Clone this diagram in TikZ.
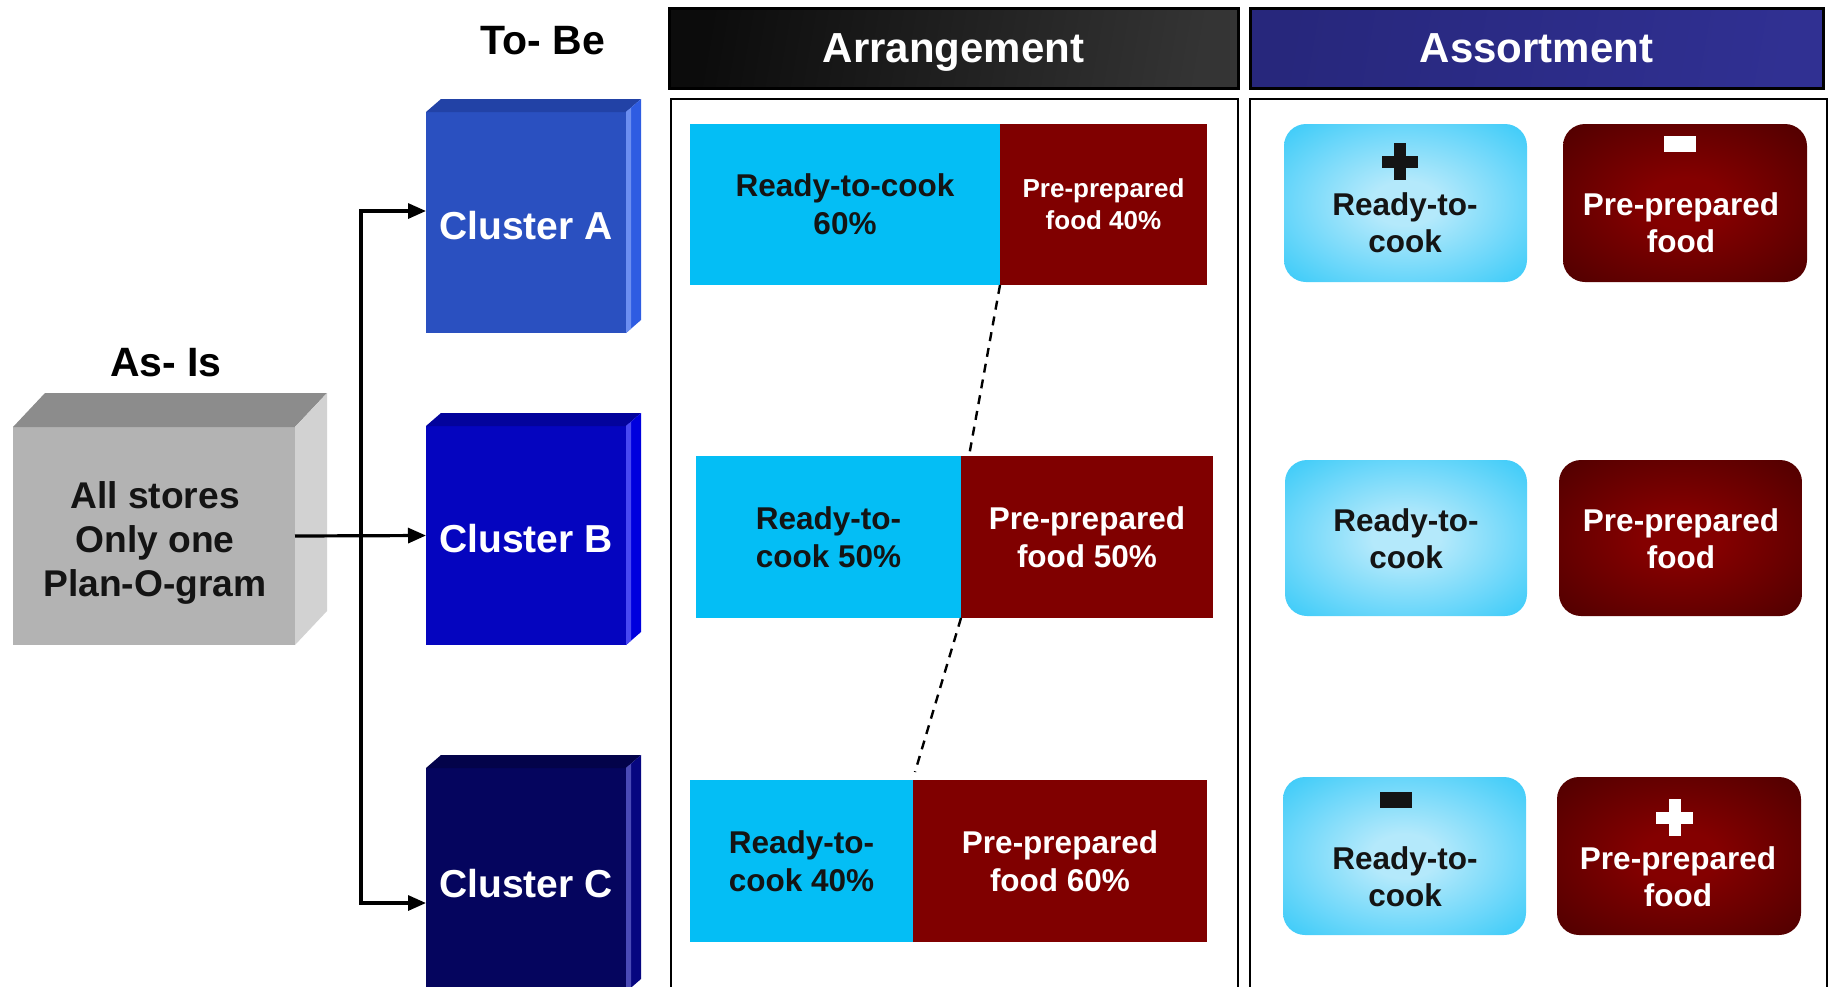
\documentclass[tikz,border=0pt]{standalone}
\usepackage{fontspec}
\setmainfont{Liberation Sans}
\usetikzlibrary{arrows.meta}

\definecolor{ink}{HTML}{141414}
\definecolor{cyanbar}{HTML}{04BEF5}
\definecolor{redbar}{HTML}{800000}
\definecolor{grayfront}{HTML}{B3B3B3}
\definecolor{graytop}{HTML}{8C8C8C}
\definecolor{grayside}{HTML}{D2D2D2}
\definecolor{clAfront}{HTML}{2A50C0}
\definecolor{clAtop}{HTML}{2242A6}
\definecolor{clAside}{HTML}{2E5CE2}
\definecolor{clAedge}{HTML}{6C8EF0}
\definecolor{clBfront}{HTML}{0505BF}
\definecolor{clBtop}{HTML}{03039C}
\definecolor{clBside}{HTML}{0000DE}
\definecolor{clBedge}{HTML}{4848F2}
\definecolor{clCfront}{HTML}{05055E}
\definecolor{clCtop}{HTML}{03034A}
\definecolor{clCside}{HTML}{060680}
\definecolor{clCedge}{HTML}{4A4AB6}
\definecolor{hdrAleft}{HTML}{0C0C0C}
\definecolor{hdrAright}{HTML}{343434}
\definecolor{hdrBleft}{HTML}{27277C}
\definecolor{hdrBright}{HTML}{303092}
\definecolor{cyancore}{HTML}{B4E9FB}
\definecolor{cyanedge}{HTML}{14C1F8}
\definecolor{redcore}{HTML}{840000}
\definecolor{rededge}{HTML}{3C0000}

% soft glows for the assortment tiles
\pgfdeclareradialshading{cyanglow}{\pgfpoint{0bp}{0bp}}{color(0bp)=(cyancore); color(7bp)=(cyancore); color(44bp)=(cyanedge); color(50bp)=(cyanedge)}
\pgfdeclareradialshading{redglow}{\pgfpoint{0bp}{0bp}}{color(0bp)=(redcore); color(8bp)=(redcore); color(46bp)=(rededge); color(60bp)=(rededge!80!black)}

\newcommand\fsz[2]{\fontsize{#1}{#2}\selectfont}

\begin{document}
\begin{tikzpicture}[x=0.5pt,y=-0.5pt,
  lbl/.style={inner sep=0pt, outer sep=0pt, align=center},
  face/.style={inner sep=0pt, outer sep=0pt, anchor=north west, align=center},
  clusterbox/.style={face, minimum width=100pt, text height=17pt, text depth=0pt, text=white, font=\bfseries\fsz{19.5pt}{23pt}},
  conn/.style={line width=1.6pt, -{Triangle[length=9pt,width=7.5pt]}},
  link/.style={line width=1.2pt, dash pattern=on 4.5pt off 3.5pt},
  barbox/.style={face, minimum height=81pt},
  cookbar/.style={barbox, fill=cyanbar, text=ink, font=\bfseries\fsz{15.75pt}{19pt}},
  foodbar/.style={barbox, fill=redbar, text=white, font=\bfseries\fsz{15.75pt}{19pt}},
  tile/.style={face, rounded corners=11pt, shade, minimum width=121.5pt, minimum height=79pt},
  tiletext/.style={lbl, font=\bfseries\fsz{15.75pt}{18.5pt}},
  header/.style={face, draw=black, line width=1.5pt, minimum height=40pt, text depth=0pt, text=white, font=\bfseries\fsz{21pt}{25pt}},
  panel/.style={line width=1.3pt}
]
\clip (0,0) rectangle (1830,986);

% titles
\node[lbl, font=\bfseries\fsz{20.5pt}{24pt}] (tobe) at (543,41) {To- Be};
\node[lbl, font=\bfseries\fsz{20.5pt}{24pt}] (asis) at (166,363) {As- Is};

% current state block
\node[face, fill=grayfront, minimum width=141pt, minimum height=109pt] (store) at (13,427) {};
\fill[graytop] (store.north west) -- ++(32,-34) -- ++(282,0) -- (store.north east) -- cycle;
\fill[grayside] (store.north east) -- ++(32,-34) -- ++(0,218) -- (store.south east) -- cycle;
\node[lbl, text=ink, font=\bfseries\fsz{18.6pt}{22pt}] (storetext) at (155,543) {All stores\\Only one\\Plan-O-gram};

% cluster blocks
\node[clusterbox, fill=clAfront, minimum height=110.5pt] (clA) at (426,112) {Cluster A};
\fill[clAtop] (clA.north west) -- ++(15,-13) -- ++(200,0) -- (clA.north east) -- cycle;
\fill[clAside] (clA.north east) -- ++(15,-13) -- ++(0,221) -- (clA.south east) -- cycle;
\fill[clAedge] (clA.north east) -- ++(5,-4.3) -- ++(0,221) -- (clA.south east) -- cycle;

\node[clusterbox, fill=clBfront, minimum height=109.5pt] (clB) at (426,426) {Cluster B};
\fill[clBtop] (clB.north west) -- ++(15,-13) -- ++(200,0) -- (clB.north east) -- cycle;
\fill[clBside] (clB.north east) -- ++(15,-13) -- ++(0,219) -- (clB.south east) -- cycle;
\fill[clBedge] (clB.north east) -- ++(5,-4.3) -- ++(0,219) -- (clB.south east) -- cycle;

\node[clusterbox, fill=clCfront, minimum height=112pt] (clC) at (426,768) {Cluster C};
\fill[clCtop] (clC.north west) -- ++(15,-13) -- ++(200,0) -- (clC.north east) -- cycle;
\fill[clCside] (clC.north east) -- ++(15,-13) -- ++(0,224) -- (clC.south east) -- cycle;
\fill[clCedge] (clC.north east) -- ++(5,-4.3) -- ++(0,224) -- (clC.south east) -- cycle;

% connectors
\coordinate (fork) at (361,538);
\draw[conn] (store.east) -- (clB.west);
\draw[conn] (fork) |- ([yshift=5.75pt]clA.west);
\draw[conn] (fork) |- ([yshift=-11.5pt]clC.west);

% column headers and frames
\node[header, left color=hdrAleft, right color=hdrAright, shading angle=80, minimum width=284.5pt] (arrhead) at (669,8) {Arrangement};
\node[header, left color=hdrBleft, right color=hdrBright, shading angle=80, minimum width=286.5pt] (asshead) at (1250,8) {Assortment};
\draw[panel] (671,1010) -- (671,99) -- (1238,99) -- (1238,1010);
\draw[panel] (1250,1010) -- (1250,99) -- (1827,99) -- (1827,1010);

% arrangement bars
\node[cookbar, minimum width=155pt, minimum height=80.5pt] (ra1) at (690,124) {Ready-to-cook\\60\%};
\node[foodbar, minimum width=103.5pt, minimum height=80.5pt, font=\bfseries\fsz{13pt}{16pt}] (rb1) at (1000,124) {Pre-prepared\\food 40\%};
\node[cookbar, minimum width=132.5pt] (ra2) at (696,456) {Ready-to-\\cook 50\%};
\node[foodbar, minimum width=126pt] (rb2) at (961,456) {Pre-prepared\\food 50\%};
\node[cookbar, minimum width=111.5pt] (ra3) at (690,780) {Ready-to-\\cook 40\%};
\node[foodbar, minimum width=147pt] (rb3) at (913,780) {Pre-prepared\\food 60\%};
\draw[link] (rb1.south west) -- ([xshift=4pt]ra2.north east);
\draw[link] (rb2.south west) -- ([xshift=1pt,yshift=4pt]ra3.north east);

% assortment tiles
\node[tile, shading=cyanglow] (ta1) at (1284,124) {};
\node[tile, shading=redglow, minimum width=122pt] (tb1) at (1563,124) {};
\node[tile, shading=cyanglow, minimum width=121pt, minimum height=78pt] (ta2) at (1285,460) {};
\node[tile, shading=redglow, minimum width=121.5pt, minimum height=78pt] (tb2) at (1559,460) {};
\node[tile, shading=cyanglow] (ta3) at (1283,777) {};
\node[tile, shading=redglow, minimum width=122pt] (tb3) at (1557,777) {};

\node[tiletext, text=ink] (ta1t) at (1405,223) {Ready-to-\\cook};
\node[tiletext, text=white] (tb1t) at (1681,223) {Pre-prepared\\food};
\node[tiletext, text=ink] (ta2t) at (1406,539) {Ready-to-\\cook};
\node[tiletext, text=white] (tb2t) at (1681,539) {Pre-prepared\\food};
\node[tiletext, text=ink] (ta3t) at (1405,877) {Ready-to-\\cook};
\node[tiletext, text=white] (tb3t) at (1678,877) {Pre-prepared\\food};

% plus and minus marks
\fill[ink] (1394,143) rectangle (1406,180);
\fill[ink] (1382,155.5) rectangle (1418,167.5);
\fill[white] (1664,136) rectangle (1696,152);
\fill[ink] (1380,792) rectangle (1412,808);
\fill[white] (1669,799) rectangle (1681,836);
\fill[white] (1656,811.5) rectangle (1693,823.5);
\end{tikzpicture}
\end{document}
